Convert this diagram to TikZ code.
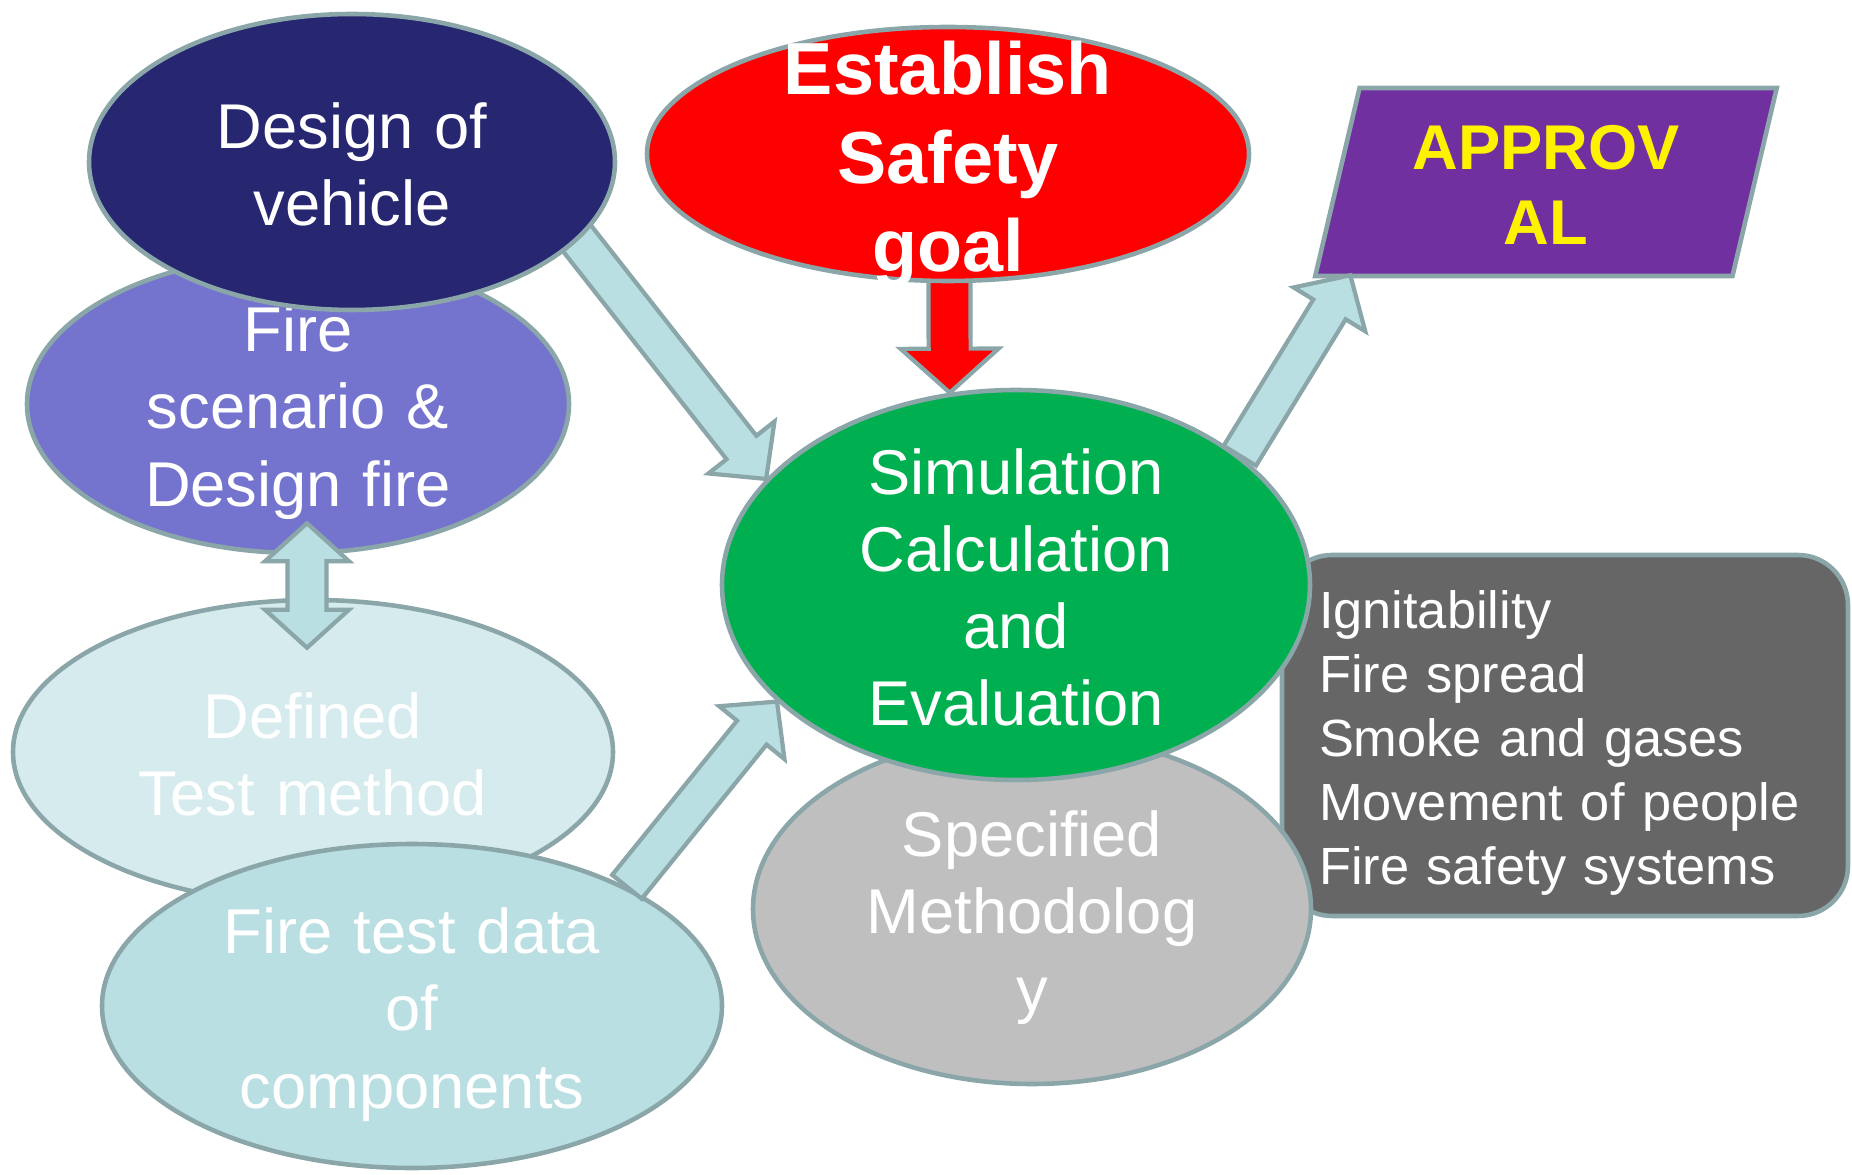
\documentclass[tikz,border=0pt]{standalone}
\usepackage{fontspec}
\setmainfont{Liberation Sans}
\usetikzlibrary{positioning, calc, shapes.geometric}

\definecolor{rim}{HTML}{8BA6A9}
\definecolor{navy}{HTML}{262671}
\definecolor{lavender}{HTML}{7474CF}
\definecolor{paleblue}{HTML}{D6EBEE}
\definecolor{iceblue}{HTML}{B9DFE2}
\definecolor{simgreen}{HTML}{00B050}
\definecolor{methodgray}{HTML}{BFBFBF}
\definecolor{listgray}{HTML}{666666}
\definecolor{approvalpurple}{HTML}{7030A0}

\begin{document}
\begin{tikzpicture}[
  % struts so that every text block is centred on full line heights
  linestruts/.style={execute at begin node={\rule{0pt}{1em}}, execute at end node={\rule[-0.21em]{0pt}{0pt}}},
  blob/.style={ellipse, draw=rim, line width=1.3pt, text=white, text width=3.9cm, align=center, inner sep=-0.2cm,
    linestruts, font=\fontsize{18}{22}\selectfont},
  listbox/.style={rectangle, rounded corners=0.5cm, draw=rim, line width=1.3pt, fill=listgray, text=white,
    minimum width=5.66cm, minimum height=3.61cm, text width=4.92cm, align=left, inner sep=0pt, linestruts,
    font=\fontsize{14.9}{18.2}\selectfont},
  approvalbox/.style={trapezium, trapezium left angle=76, trapezium right angle=104, trapezium stretches=true,
    minimum width=4.62cm, minimum height=1.88cm, draw=rim, line width=1.3pt, fill=approvalpurple, text=yellow,
    text width=3.2cm, align=center, inner sep=0pt, linestruts, font=\bfseries\fontsize{18}{21.6}\selectfont},
  fat shaft/.initial=0.19cm,
  fat head/.initial=0.42cm,
  fat tip/.initial=0.40cm,
  fatarrow/.style={draw=rim, line width=1.2pt, fill=iceblue, to path={
    ($(\tikztostart)!\pgfkeysvalueof{/tikz/fat shaft}!90:(\tikztotarget)$)
    -- ($(\tikztotarget)!\pgfkeysvalueof{/tikz/fat tip}!(\tikztostart)!\pgfkeysvalueof{/tikz/fat shaft}!90:(\tikztotarget)$)
    -- ($(\tikztotarget)!\pgfkeysvalueof{/tikz/fat tip}!(\tikztostart)!\pgfkeysvalueof{/tikz/fat head}!90:(\tikztotarget)$)
    -- (\tikztotarget)
    -- ($(\tikztotarget)!\pgfkeysvalueof{/tikz/fat tip}!(\tikztostart)!\pgfkeysvalueof{/tikz/fat head}!-90:(\tikztotarget)$)
    -- ($(\tikztotarget)!\pgfkeysvalueof{/tikz/fat tip}!(\tikztostart)!\pgfkeysvalueof{/tikz/fat shaft}!-90:(\tikztotarget)$)
    -- ($(\tikztostart)!\pgfkeysvalueof{/tikz/fat shaft}!-90:(\tikztotarget)$)
    -- cycle}},
  fatboth/.style={draw=rim, line width=1.2pt, fill=iceblue, to path={
    (\tikztostart)
    -- ($(\tikztostart)!\pgfkeysvalueof{/tikz/fat tip}!(\tikztotarget)!\pgfkeysvalueof{/tikz/fat head}!-90:(\tikztotarget)$)
    -- ($(\tikztostart)!\pgfkeysvalueof{/tikz/fat tip}!(\tikztotarget)!\pgfkeysvalueof{/tikz/fat shaft}!-90:(\tikztotarget)$)
    -- ($(\tikztotarget)!\pgfkeysvalueof{/tikz/fat tip}!(\tikztostart)!\pgfkeysvalueof{/tikz/fat shaft}!90:(\tikztostart)$)
    -- ($(\tikztotarget)!\pgfkeysvalueof{/tikz/fat tip}!(\tikztostart)!\pgfkeysvalueof{/tikz/fat head}!90:(\tikztostart)$)
    -- (\tikztotarget)
    -- ($(\tikztotarget)!\pgfkeysvalueof{/tikz/fat tip}!(\tikztostart)!\pgfkeysvalueof{/tikz/fat head}!-90:(\tikztostart)$)
    -- ($(\tikztotarget)!\pgfkeysvalueof{/tikz/fat tip}!(\tikztostart)!\pgfkeysvalueof{/tikz/fat shaft}!-90:(\tikztostart)$)
    -- ($(\tikztostart)!\pgfkeysvalueof{/tikz/fat tip}!(\tikztotarget)!\pgfkeysvalueof{/tikz/fat shaft}!90:(\tikztotarget)$)
    -- ($(\tikztostart)!\pgfkeysvalueof{/tikz/fat tip}!(\tikztotarget)!\pgfkeysvalueof{/tikz/fat head}!90:(\tikztotarget)$)
    -- cycle}}
]
  \useasboundingbox (0,0) rectangle (18.52,11.74);

  % list of aspects behind the middle column
  \node[listbox] (factors) at (15.65,4.385) {Ignitability\\Fire spread\\Smoke and gases\\Movement of people\\Fire safety systems};

  % middle column
  \node[blob, fill=methodgray, minimum width=5.58cm, minimum height=3.50cm] (method) at (10.32,2.65) {Specified\\Methodolog\\y};
  \node[blob, fill=simgreen, minimum width=5.88cm, minimum height=3.90cm] (sim) at (10.16,5.89) {Simulation\\Calculation\\and\\Evaluation};

  \coordinate (design-out) at (5.50,9.70);
  \coordinate (goal-out) at (9.49,10.00);
  \draw[fatarrow] (design-out) to (sim.157);
  \draw[fatarrow, fill=red, fat shaft=0.21cm, fat head=0.49cm, fat tip=0.44cm] (goal-out) to (sim.109.5);

  \node[blob, fill=red, minimum width=6.02cm, minimum height=2.54cm, inner sep=-0.45cm,
    font=\bfseries\fontsize{21}{25.3}\selectfont] (goal) at (9.48,10.20) {Establish\\Safety\\goal};

  % left column
  \node[blob, fill=paleblue, minimum width=6.00cm, minimum height=3.04cm] (defined) at (3.13,4.22) {Defined\\Test method};
  \node[blob, fill=iceblue, minimum width=6.20cm, minimum height=3.24cm] (testdata) at (4.12,1.68) {Fire test data\\of\\components};
  \draw[fatarrow] (testdata.29) to (sim.206);

  \node[blob, fill=lavender, minimum width=5.42cm, minimum height=2.98cm] (scenario) at (2.98,7.70) {Fire\\scenario \&\\Design fire};
  \node[blob, fill=navy, minimum width=5.26cm, minimum height=2.96cm] (design) at (3.52,10.12) {Design of\\vehicle};

  \coordinate (scenario-in) at ($(scenario.south)+(0.09,0.32)$);
  \coordinate (defined-in) at ($(defined.north)+(-0.06,-0.50)$);
  \draw[fatboth, fat shaft=0.195cm, fat tip=0.38cm] (scenario-in) to (defined-in);

  % approval
  \node[approvalbox] (approval) at (15.46,9.92) {APPROV\\AL};
  \coordinate (approval-in) at ($(approval.bottom left corner)+(0.38,0.03)$);
  \draw[fatarrow] (sim.30) to (approval-in);
\end{tikzpicture}
\end{document}
